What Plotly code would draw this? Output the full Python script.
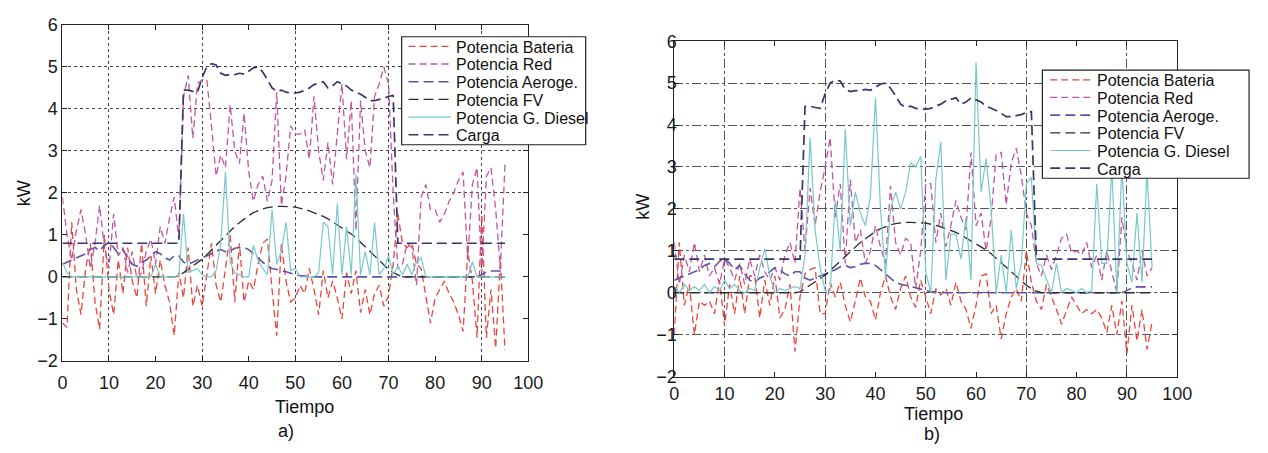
import plotly.graph_objects as go

# ---------------------------------------------------------------------------
# Data: power flows sampled every 15 min (96 steps), kW
# ---------------------------------------------------------------------------
t = list(range(96))

series_names = ["Potencia Bateria", "Potencia Red", "Potencia Aeroge.",
                "Potencia FV", "Potencia G. Diesel", "Carga"]

# Shared profiles (same in both scenarios)
carga = [0.8] * 26 + [
    4.45, 4.45, 4.42, 4.4, 4.75, 5.0, 5.08, 5.05, 4.85, 4.8,      # 26-35
    4.82, 4.82, 4.85, 4.83, 4.9, 4.98, 5.0, 4.88, 4.7, 4.5,       # 36-45
    4.42, 4.45, 4.4, 4.38, 4.38, 4.4, 4.45, 4.5, 4.58, 4.62,      # 46-55
    4.65, 4.5, 4.55, 4.65, 4.6, 4.55, 4.45, 4.4, 4.35, 4.28,      # 56-65
    4.2, 4.2, 4.22, 4.25, 4.3, 4.32,                              # 66-71
] + [0.8] * 24

pot_fv = [0.0] * 25 + [
    0.02, 0.1, 0.17, 0.25, 0.33, 0.42, 0.53, 0.64, 0.76, 0.88,    # 25-34
    0.99, 1.1, 1.2, 1.29, 1.38, 1.46, 1.53, 1.58, 1.62, 1.65,     # 35-44
    1.67, 1.68, 1.68, 1.68, 1.67, 1.66, 1.64, 1.61, 1.57, 1.53,   # 45-54
    1.49, 1.44, 1.38, 1.31, 1.24, 1.17, 1.1, 1.02, 0.93, 0.83,    # 55-64
    0.72, 0.61, 0.5, 0.39, 0.28, 0.18, 0.1, 0.04,                 # 65-72
] + [0.0] * 23

pot_aeroge = [
    0.3, 0.35, 0.4, 0.45, 0.5, 0.55, 0.65, 0.7, 0.62, 0.75,       # 0-9
    0.82, 0.7, 0.55, 0.65, 0.45, 0.3, 0.25, 0.35, 0.4, 0.5,       # 10-19
    0.6, 0.55, 0.45, 0.4, 0.5, 0.5, 0.35, 0.3, 0.35, 0.4,         # 20-29
    0.45, 0.5, 0.55, 0.62, 0.65, 0.6, 0.62, 0.68, 0.7, 0.7,       # 30-39
    0.65, 0.55, 0.45, 0.35, 0.25, 0.2, 0.18, 0.15, 0.12, 0.08,    # 40-49
    0.05, 0.03, 0.02,                                             # 50-52
] + [0.0] * 37 + [0.05, 0.12, 0.14, 0.14, 0.13, 0.14]             # 53-95

# Scenario a)
bateria_a = [
    -1.1, -1.2, 1.3, -0.3, -0.9, 0.2, 0.8, -0.6, -1.25, 1.0,
    -0.3, -0.9, 0.4, -0.4, 0.7, -0.1, -0.5, 0.8, -0.7, 0.5,
    -0.4, 0.4, -0.2, -0.6, -1.4, 0.1, -0.5, 0.7, -0.7, -0.2,
    -0.7, 0.1, 0.8, -0.2, -0.6, 0.2, 1.0, -0.6, 0.8, -0.6,
    -0.1, -0.3, 0.3, 0.8, 0.9, -0.3, -1.4, 0.8, -0.1, -0.6,
    -0.5, -0.2, -0.4, 0.2, -0.3, -0.9, 0.15, -0.5, -0.1, -0.5,
    -1.0, 0.1, -0.4, 0.15, -0.85, -0.3, -0.9, -0.4, -0.2, -0.7,
    -0.45, 0.3, 1.5, 0.8, 0.7, 0.8, 0.3, 0.2, -0.5, -1.1,
    -0.5, -0.3, -0.1, -0.4, -0.6, -0.9, -1.3, 0.6, -0.1, -1.45,
    1.5, -1.45, -0.3, -1.7, 0.4, -1.75,
]
red_a = [
    1.9, 1.0, 0.4, 1.1, 1.6, 1.0, 0.2, 0.8, 1.7, 0.7,
    0.2, 1.5, 0.5, 0.7, 0.1, 0.6, -0.05, 0.1, 0.6, 0.9,
    0.3, 1.2, 0.8, 1.4, 1.9, 0.9, 4.3, 4.8, 3.3, 4.6,
    4.7, 4.7, 3.6, 2.4, 2.9, 2.6, 4.1, 3.0, 2.7, 3.9,
    2.5, 1.8, 2.2, 2.4, 1.8, 2.3, 4.4, 1.7, 2.4, 3.6,
    3.4, 3.4, 3.5, 2.8, 4.3, 3.0, 2.3, 3.2, 2.2, 3.4,
    4.6, 2.8, 4.2, 1.1, 4.2, 3.0, 2.6, 4.3, 4.6, 5.0,
    4.6, 2.0, 0.2, 0.3, 0.8, 0.7, -0.2, 1.9, 2.2, 1.6,
    1.6, 1.3, 1.5, 1.8, 2.0, 2.3, 2.5, 0.4, 2.2, 2.6,
    0.1, 2.4, 2.6, 1.6, 0.2, 2.7,
]
diesel_a = [
    0.35, 0.1, 0, 0, 0, 0, 0, 0, 0, 0,
    0, 0, 0, 0, 0, 0, 0, 0, 0, 0,
    0.3, 0, 0, 0, 0, 0.05, 1.5, 0.1, 0.15, 0.2,
    0.05, 0, 0, 0.15, 0.8, 2.5, 0.35, 0.1, 0.05, 0,
    0, 0.75, 0.4, 0.2, 0.05, 1.6, 0.3, 0.6, 1.3, 0.15,
    0.2, 0, 0, 0, 0, 0.1, 1.3, 1.2, 0.05, 1.75,
    0.05, 1.2, 0.05, 2.45, 0.05, 0.6, 0.05, 1.3, 0.05, 0.2,
    0.5, 0.05, 0.25, 0.05, 0.3, 0.05, 0.35, 0.45, 0, 0,
    0, 0, 0, 0, 0, 0, 0, 0, 0.36, 0,
    0, 0, 0, 0, 0, 0,
]

# Scenario b)
bateria_b = [
    -1.0, 1.2, -0.3, 0.2, -1.0, -0.2, -0.3, -0.2, -0.5, 0.3,
    -0.8, 0.2, -0.5, 0.4, -0.5, 0.4, 0.4, -0.6, 0.3, -0.3,
    0.4, -0.6, -0.4, 0.2, -1.4, -0.1, 0.45, 0.55, 0.6, -0.5,
    -0.5, 0.25, -0.1, 0.25, -0.3, -0.7, -0.2, 0.35, -0.1, -0.2,
    -0.65, 0.0, 0.4, -0.1, -0.4, 0.1, 0.4, -0.1, -0.35, 0.3,
    -0.1, -0.5, 0.1, -0.05, 0.1, -0.3, 0.25, -0.2, -0.4, -0.85,
    -0.3, 0.4, 0.45, -0.5, -0.3, -1.1, -0.5, -0.1, 0.1, -0.2,
    1.0, 0.25, -0.2, -0.4, 0.2, -0.1, -0.4, -0.75, -0.4, -0.1,
    -0.3, -0.5, -0.4, -0.5, -0.4, -0.6, -0.95, -0.3, -1.0, -0.2,
    -1.45, -0.3, -1.15, -0.4, -1.35, -0.7,
]
red_b = [
    1.2, 0.2, 0.9, 0.5, 1.2, 0.5, 0.9, 0.4, 0.6, 0.2,
    0.8, 0.6, 0.3, 0.7, 0.2, 0.8, 0.4, 0.9, 0.5, 0.3,
    0.6, 0.3, 0.9, 1.2, 0.7, 2.5, 1.0, 2.5, 1.6, 2.4,
    3.0, 3.7, 1.8, 2.6, 0.7, 2.7, 1.2, 1.5, 0.7, 1.0,
    1.6, 1.1, 0.7, 2.55, 1.2, 0.9, 1.3, 1.2, 0.1, 1.0,
    2.6, 2.6, 1.2, 1.9, 1.1, 1.6, 2.2, 1.8, 1.5, 3.35,
    1.6, 1.9, 1.0, 1.8, 3.3, 3.35, 2.1, 3.1, 3.45, 2.8,
    1.9, 1.6, 0.7, 0.4, 0.9, 0.55, 0.9, 1.3, 1.4, 0.95,
    1.0, 0.9, 1.2, 0.6, 0.9, 0.3, 1.0, 0.5, 0.0, 1.8,
    1.0, 0.7, 0.3, 1.0, 0.4, 0.6,
]
diesel_b = [
    0.15, 0.0, 0.2, 0.05, 0.15, 0.05, 0.2, 0.0, 0.15, 0.05,
    0.3, 0.1, 0.2, 0.05, 0.0, 0.1, 0.05, 0.6, 1.05, 0.4,
    0.0, 0.1, 0.05, 0.1, 0.15, 0.1, 0.9, 3.7, 1.5, 0.6,
    0.05, 0.05, 2.2, 1.0, 3.9, 1.6, 2.4, 1.9, 1.6, 2.3,
    4.65, 2.0, 0.4, 2.0, 2.4, 2.0, 2.4, 3.1, 3.0, 3.25,
    0.5, 0.0, 2.7, 3.6, 0.3, 1.4, 1.4, 0.8, 1.8, 0.3,
    5.5, 2.4, 3.2, 2.0, 0.0, 0.9, 0.0, 1.5, 0.1, 0.7,
    2.6, 2.75, 0.7, 0.65, 0.3, 0.0, 0.7, 0.0, 0.1, 0.05,
    0.0, 0.1, 0.0, 0.05, 2.6, 0.7, 0.7, 3.0, 0.0, 3.0,
    0.7, 0.25, 1.9, 0.25, 2.9, 0.6,
]

x_ticks = list(range(0, 101, 10))
y_ticks = list(range(-2, 7))

# ---------------------------------------------------------------------------
# Styling
# ---------------------------------------------------------------------------
W, H = 1268, 453
FONT = "Arial, Liberation Sans, Helvetica, sans-serif"
styles = [
    dict(color="#e8453c", width=1.3, dash="7px,4px"),   # Bateria
    dict(color="#c2559f", width=1.3, dash="7px,4px"),   # Red
    dict(color="#5f52a6", width=1.6, dash="10px,5px"),  # Aeroge.
    dict(color="#2b2b2b", width=1.3, dash="10px,5px"),  # FV
    dict(color="#76c9cc", width=1.2, dash="solid"),     # G. Diesel
    dict(color="#36366f", width=1.7, dash="10px,5px"),  # Carga
]

panels = [
    dict(xa="x", ya="y", data=[bateria_a, red_a, pot_aeroge, pot_fv, diesel_a, carga]),
    dict(xa="x2", ya="y2", data=[bateria_b, red_b, pot_aeroge, pot_fv, diesel_b, carga]),
]

fig = go.Figure()
for p in panels:
    for name, ys, st in zip(series_names, p["data"], styles):
        fig.add_trace(go.Scatter(
            x=t, y=ys, name=name, mode="lines", line=st,
            xaxis=p["xa"], yaxis=p["ya"], showlegend=False,
        ))


def px(x):
    return x / W


def py(y):
    return 1 - y / H


def axis_common(tickvals, rng):
    return dict(
        range=rng, tickmode="array", tickvals=tickvals,
        ticks="inside", ticklen=5, tickcolor="#222", mirror="ticks",
        showline=True, linecolor="#222", linewidth=1,
        showgrid=False, zeroline=False,
        tickfont=dict(family=FONT, size=18, color="#1a1a1a"),
    )


xa1 = axis_common(x_ticks, [0, 100])
xa1.update(domain=[px(58.3), px(531.7)], anchor="y", ticklabelstandoff=6,
           minor=dict(tickmode="array", tickvals=[10, 30, 50, 70, 90], ticks="",
                      showgrid=True, gridcolor="#444", griddash="dot", gridwidth=1))
ya1 = axis_common(y_ticks, [-2, 6])
ya1.update(domain=[py(367), py(15.7)], anchor="x",
           minor=dict(tickmode="array", tickvals=[2, 3, 4, 5], ticks="",
                      showgrid=True, gridcolor="#444", griddash="dot", gridwidth=1))

xa2 = axis_common(x_ticks, [0, 100])
xa2.update(domain=[px(680), px(1191)], anchor="y2", ticklabelstandoff=1,
           minor=dict(tickmode="array", tickvals=[10, 30, 50, 70, 90], ticks="",
                      showgrid=True, gridcolor="#555", griddash="dashdot", gridwidth=1))
ya2 = axis_common(y_ticks, [-2, 6])
ya2.update(domain=[py(383.5), py(32.7)], anchor="x2", ticklabelstandoff=-7,
           minor=dict(tickmode="array", tickvals=[-1, 0, 1, 2, 3, 4, 5], ticks="",
                      showgrid=True, gridcolor="#555", griddash="dashdot", gridwidth=1))

# ---------------------------------------------------------------------------
# Boxed legends (drawn over the curves, opaque)
# ---------------------------------------------------------------------------
shapes = []
annotations = []
LEG_FONT = 16
legend_boxes = [
    dict(box=(403, 28, 590, 141), line_x=(410, 453), text_x=456, row0=38, step=18.5),
    dict(box=(1054, 63, 1264, 176), line_x=(1062, 1103), text_x=1107, row0=73, step=18.5),
]
for lg in legend_boxes:
    x0, y0, x1, y1 = lg["box"]
    shapes.append(dict(type="rect", xref="paper", yref="paper",
                       x0=px(x0), x1=px(x1), y0=py(y1), y1=py(y0),
                       fillcolor="white", line=dict(color="#222", width=1.2),
                       layer="above"))
    for i, (name, st) in enumerate(zip(series_names, styles)):
        yy = lg["row0"] + i * lg["step"]
        shapes.append(dict(type="line", xref="paper", yref="paper",
                           x0=px(lg["line_x"][0]), x1=px(lg["line_x"][1]),
                           y0=py(yy), y1=py(yy), line=st, layer="above"))
        annotations.append(dict(text=name, xref="paper", yref="paper",
                                x=px(lg["text_x"]), y=py(yy + 1),
                                xanchor="left", yanchor="middle", showarrow=False,
                                font=dict(family=FONT, size=LEG_FONT, color="#111")))

# Axis captions and panel labels
for text, x, y, ang in [("kW", 19, 192, -90), ("Tiempo", 304, 415, 0), ("a)", 286, 440, 0),
                        ("kW", 648, 206, -90), ("Tiempo", 943, 423, 0), ("b)", 942, 444, 0)]:
    annotations.append(dict(text=text, xref="paper", yref="paper", x=px(x), y=py(y),
                            xanchor="center", yanchor="middle", showarrow=False,
                            textangle=ang,
                            font=dict(family=FONT, size=18, color="#111")))

fig.update_layout(
    width=W, height=H, margin=dict(l=0, r=0, t=0, b=0),
    paper_bgcolor="white", plot_bgcolor="white",
    xaxis=xa1, yaxis=ya1, xaxis2=xa2, yaxis2=ya2,
    shapes=shapes, annotations=annotations, showlegend=False,
)

fig.write_html("out.html")
